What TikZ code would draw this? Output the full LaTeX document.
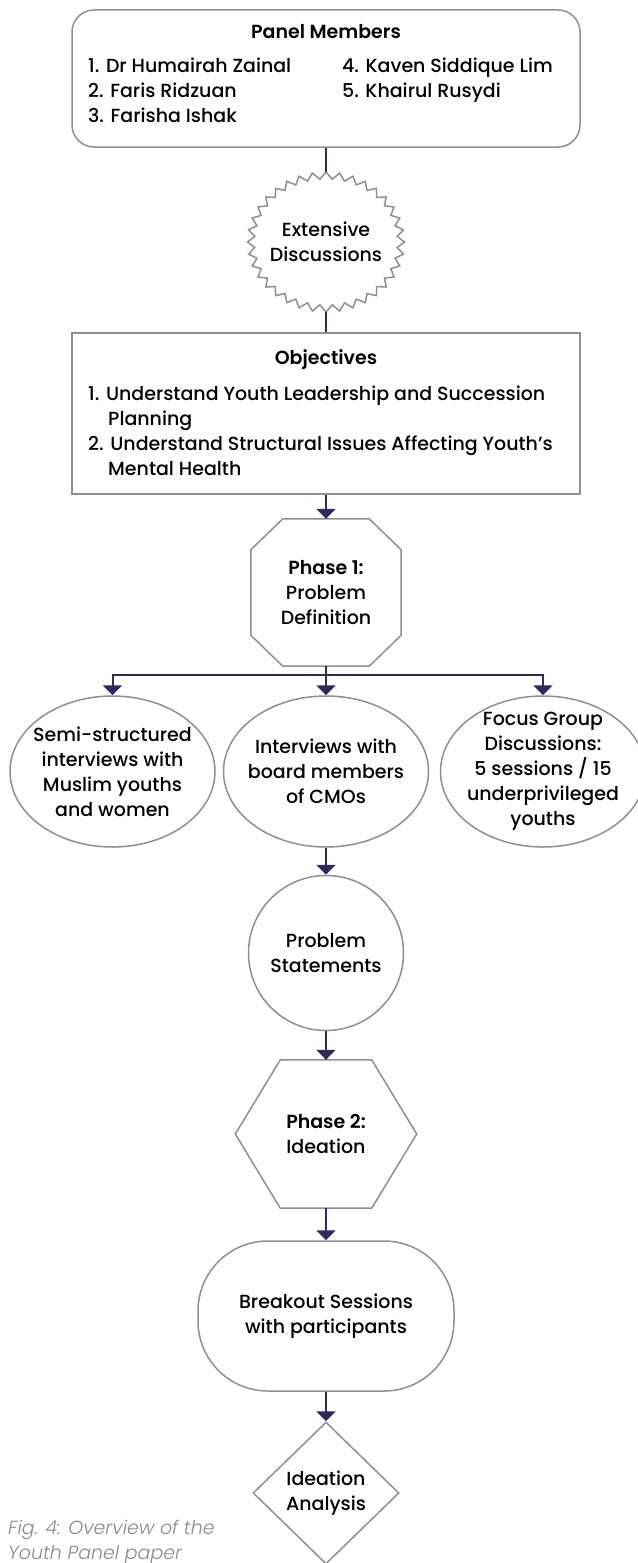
\documentclass[tikz,border=0pt]{standalone}
\usepackage{fontspec}
\setmainfont{Poppins}[UprightFont=* Medium, BoldFont=* SemiBold, ItalicFont=* Light Italic]
\usetikzlibrary{shapes.geometric,arrows.meta}
\definecolor{navy}{HTML}{2E2A5E}
\definecolor{edge}{HTML}{8F8F8F}
\definecolor{capgray}{HTML}{8A8A8A}
\newcommand{\bodyfont}{\fontsize{19pt}{25pt}\selectfont}

\begin{document}
\begin{tikzpicture}[x=1pt, y=-1pt,
		box/.style={draw=edge, line width=1.5pt, inner sep=0pt, align=center, font=\bodyfont},
		txt/.style={inner sep=0pt, font=\bodyfont},
		link/.style={draw=navy, line width=2pt},
		arr/.style={link, -{Triangle[width=19pt,length=10pt]}}
		]
	\useasboundingbox (0,0) rectangle (637,1563);

	% panel members
	\node [box, rectangle, rounded corners=22pt, minimum width=508pt, minimum height=137pt] (pm) at (326,78.5) {};
	\node [txt, font=\bodyfont\bfseries] (pmt) at (326,32) {Panel Members};
	\node [txt, anchor=base west] (pm1) at (88,72) {1. Dr Humairah Zainal};
	\node [txt, anchor=base west] (pm2) at (88,97) {2. Faris Ridzuan};
	\node [txt, anchor=base west] (pm3) at (88,122) {3. Farisha Ishak};
	\node [txt, anchor=base west] (pm4) at (342,72) {4. Kaven Siddique Lim};
	\node [txt, anchor=base west] (pm5) at (342,97) {5. Khairul Rusydi};

	% zigzag star
	\node [txt, ellipse, align=center, minimum width=157pt, minimum height=140pt] (disc) at (326,242) {Extensive\\Discussions};
	\draw [box] ([shift={(90:78.5pt and 70pt)}]disc.center)
		\foreach \i [evaluate=\i as \ang using {90+5*\i}, evaluate=\i as \rx using {78.5-7*mod(\i,2)},
			evaluate=\i as \ry using {70-7*mod(\i,2)}] in {1,...,71} { -- ([shift={(\ang:\rx pt and \ry pt)}]disc.center) } -- cycle;

	% objectives
	\node [box, rectangle, minimum width=508pt, minimum height=161pt] (obj) at (326,413.5) {};
	\node [txt, font=\bodyfont\bfseries] (objt) at (326,360) {Objectives};
	\node [txt, anchor=base west] (ob1) at (88,400) {1. Understand Youth Leadership and Succession};
	\node [txt, anchor=base west] (ob1b) at (108,425) {Planning};
	\node [txt, anchor=base west] (ob2) at (88,450) {2. Understand Structural Issues Affecting Youth’s};
	\node [txt, anchor=base west] (ob2b) at (108,475) {Mental Health};

	% phase 1
	\node [txt, align=center, minimum width=150pt, minimum height=147pt] (p1) at (326,592.5) {\textbf{Phase 1:}\\Problem\\Definition};
	\draw [box] ([xshift=32pt]p1.north west) -- ([xshift=-32pt]p1.north east) -- ([yshift=-31pt]p1.north east)
		-- ([yshift=31pt]p1.south east) -- ([xshift=-32pt]p1.south east) -- ([xshift=32pt]p1.south west)
		-- ([yshift=31pt]p1.south west) -- ([yshift=-31pt]p1.north west) -- cycle;
	\coordinate (fork) at (326,675);

	\node [box, ellipse, inner xsep=-10pt, inner ysep=-8pt, minimum width=205pt, minimum height=151pt] (semi) at (112.5,771.5)
		{Semi-structured\\interviews with\\Muslim youths\\and women};
	\node [box, ellipse, inner xsep=-10pt, inner ysep=-8pt, minimum width=205pt, minimum height=151pt] (cmo) at (326,771.5)
		{Interviews with\\board members\\of CMOs};
	\node [box, ellipse, inner xsep=-10pt, inner ysep=-8pt, minimum width=205pt, minimum height=151pt] (fgd) at (543,771.5)
		{Focus Group\\Discussions:\\5 sessions / 15\\underprivileged\\youths};

	\node [box, circle, minimum size=155pt] (ps) at (326,953) {Problem\\Statements};

	% phase 2
	\node [txt, align=center, minimum width=181pt, minimum height=148pt] (p2) at (326,1134) {\textbf{Phase 2:}\\Ideation};
	\draw [box] ([xshift=45pt]p2.north west) -- ([xshift=-45pt]p2.north east) -- (p2.east)
		-- ([xshift=-45pt]p2.south east) -- ([xshift=45pt]p2.south west) -- (p2.west) -- cycle;

	\node [box, rectangle, rounded corners=70pt, minimum width=256pt, minimum height=150pt] (bo) at (326,1316)
		{Breakout Sessions\\with participants};
	\node [box, diamond, minimum width=146pt, minimum height=142pt] (ia) at (326,1493) {Ideation\\Analysis};

	\node [txt, anchor=base west, text=capgray, font=\bodyfont\itshape] (cap1) at (8,1534) {Fig. 4: Overview of the};
	\node [txt, anchor=base west, text=capgray, font=\bodyfont\itshape] (cap2) at (8,1559) {Youth Panel paper};

	\draw [link] (pm) -- (disc);
	\draw [link] (disc) -- (obj);
	\draw [arr] (obj) -- (p1);
	\draw [link] (p1) -- (fork);
	\draw [arr] (fork) -| (semi);
	\draw [arr] (fork) -- (cmo);
	\draw [arr] (fork) -| (fgd);
	\draw [arr] (cmo) -- (ps);
	\draw [arr] (ps) -- (p2);
	\draw [arr] (p2) -- (bo);
	\draw [arr] (bo) -- (ia);
\end{tikzpicture}
\end{document}
